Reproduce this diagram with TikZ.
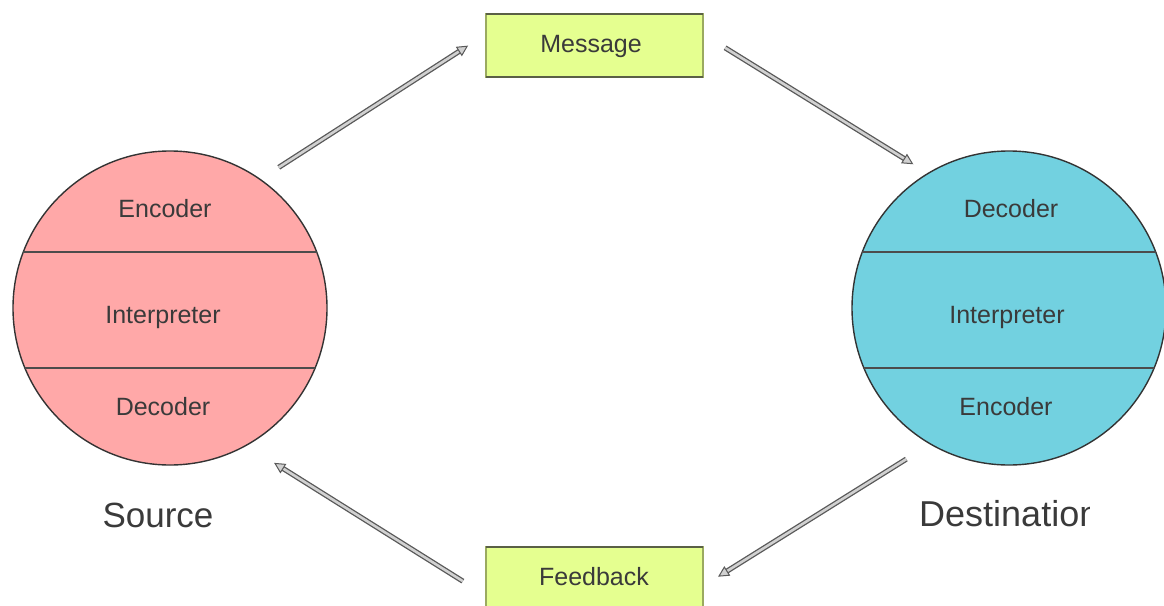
\documentclass[tikz,border=0pt]{standalone}
\usepackage{fontspec}
\setmainfont{Liberation Sans}
\usetikzlibrary{arrows.meta,calc}
\definecolor{srcfill}{HTML}{FFA8A8}
\definecolor{dstfill}{HTML}{72D1E0}
\definecolor{boxfill}{HTML}{E5FF90}
\definecolor{boxedge}{HTML}{9BAA60}
\definecolor{boxdark}{HTML}{5A6046}
\definecolor{ink}{HTML}{3A3A3A}
\begin{document}
\begin{tikzpicture}[x=1pt,y=-1pt,
  party/.style={circle, inner sep=0pt, outer sep=0pt, minimum size=314pt,
    draw=black!80, line width=1.4pt},
  chord/.style={draw=black!70, line width=1.3pt},
  layer/.style={text=ink, font=\fontsize{25}{30}\selectfont, anchor=base, inner sep=0pt},
  msgbox/.style={rectangle, fill=boxfill, draw=boxedge, line width=2pt,
    minimum width=217pt, minimum height=63pt, inner sep=0pt, outer sep=0pt},
  edge/.style={draw=boxdark, line width=2pt},
  role/.style={text=ink, font=\fontsize{35}{42}\selectfont, anchor=base west, inner sep=0pt},
  flow/.style={draw=black!65, line width=1.3pt, double=black!18, double distance=2.6pt,
    -{Triangle[length=11pt,width=11pt,fill=black!18,color=black!65,line width=1pt]}}
]
\useasboundingbox (0,0) rectangle (1164,605);

% the two parties
\node[party, fill=srcfill] (src) at (170,308) {};
\node[party, fill=dstfill] (dst) at (1009,308) {};

% layer dividers inside each party
\begin{scope}
  \clip (src.center) circle (157);
  \draw[chord] ($(src.center)+(-160,-56)$) -- ++(320,0);
  \draw[chord] ($(src.center)+(-160,60)$) -- ++(320,0);
\end{scope}
\begin{scope}
  \clip (dst.center) circle (157);
  \draw[chord] ($(dst.center)+(-160,-56)$) -- ++(320,0);
  \draw[chord] ($(dst.center)+(-160,60)$) -- ++(320,0);
\end{scope}

% layer labels
\node[layer] (srcenc) at (165,217) {Encoder};
\node[layer] (srcint) at (163,323) {Interpreter};
\node[layer] (srcdec) at (163,415) {Decoder};
\node[layer] (dstdec) at (1011,217) {Decoder};
\node[layer] (dstint) at (1007,323) {Interpreter};
\node[layer] (dstenc) at (1006,415) {Encoder};

% message and feedback boxes
\node[msgbox] (msg) at (594.5,45.5) {};
\node[msgbox] (fb) at (594.5,578.5) {};
\draw[edge] (msg.north west) -- (msg.north east);
\draw[edge] (msg.south west) -- (msg.south east);
\draw[edge] (fb.north west) -- (fb.north east);
\node[layer] (msgtxt) at (591,52) {Message};
\node[layer] (fbtxt) at (594,585) {Feedback};

% role captions
\node[role, anchor=base] (srclbl) at (158,527) {Source};
\begin{scope}
  \clip (900,470) rectangle (1089,560);
  \node[role, font=\fontsize{36}{43}\selectfont] (dstlbl) at (919,526) {Destination};
\end{scope}

% flow of communication
\draw[flow, shorten <=22.2pt, shorten >=21.3pt] (src.55.4) -- (msg.174.8);
\draw[flow, shorten <=26pt, shorten >=17.4pt] (msg.6.5) -- (dst.121.6);
\draw[flow, shorten <=28.5pt, shorten >=17.7pt] (dst.240.7) -- (fb.-4.6);
\draw[flow, shorten <=27.3pt, shorten >=33pt] (fb.189.5) -- (src.299.9);
\end{tikzpicture}
\end{document}
